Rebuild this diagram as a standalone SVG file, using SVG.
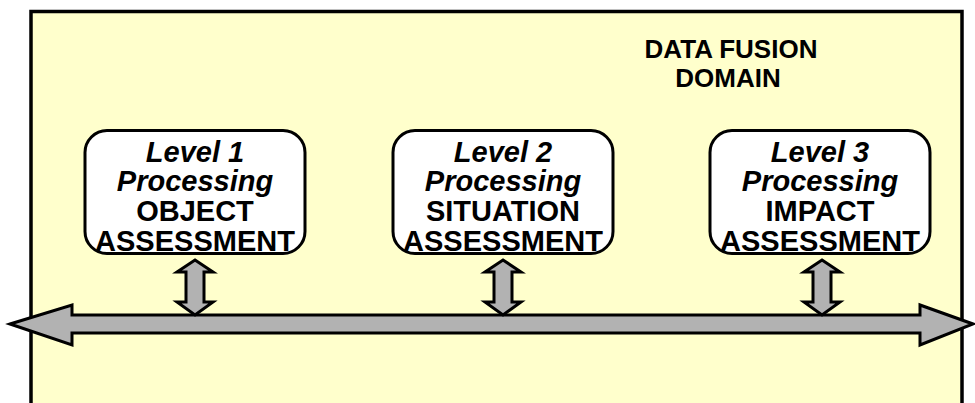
<svg xmlns="http://www.w3.org/2000/svg" width="975" height="403" viewBox="0 0 975 403">
<defs>
<style>
.frame{fill:#FFFFCC;stroke:#000;stroke-width:3.5}
.box{fill:#FFFFFF;stroke:#000;stroke-width:3}
.arr{fill:#B2B2B2;stroke:#000;stroke-width:3;stroke-linejoin:miter}
.t{font-family:"Liberation Sans",Arial,sans-serif;font-weight:bold;font-size:29px;text-anchor:middle;fill:#000}
.i{font-style:italic}
.title{font-family:"Liberation Sans",Arial,sans-serif;font-weight:bold;font-size:26px;text-anchor:middle;fill:#000}
</style>
</defs>
<rect class="frame" x="31" y="11.5" width="931" height="420"/>
<g id="title">
<text class="title" x="731" y="58">DATA FUSION</text>
<text class="title" x="728" y="87">DOMAIN</text>
</g>
<g id="connectors">
<polygon class="arr" points="10,324 72,305 72,315 920,315 920,305 973,324 920,345 920,333 72,333 72,345"/>
<polygon class="arr" points="195,260 213,272 204,272 204,302 213,302 195,315 177,302 186,302 186,272 177,272"/>
<polygon class="arr" points="503,260 521,272 512,272 512,302 521,302 503,315 485,302 494,302 494,272 485,272"/>
<polygon class="arr" points="822,260 840,272 831,272 831,302 840,302 822,315 804,302 813,302 813,272 804,272"/>
</g>
<g id="level1">
<rect class="box" x="85" y="130.5" width="220" height="123" rx="22" ry="22"/>
<text class="t i" x="195" y="162">Level 1</text>
<text class="t i" x="195" y="191">Processing</text>
<text class="t" x="195" y="221">OBJECT</text>
<text class="t" x="195" y="251">ASSESSMENT</text>
</g>
<g id="level2">
<rect class="box" x="393" y="130.5" width="220" height="123" rx="22" ry="22"/>
<text class="t i" x="503" y="162">Level 2</text>
<text class="t i" x="503" y="191">Processing</text>
<text class="t" x="503" y="221">SITUATION</text>
<text class="t" x="503" y="251">ASSESSMENT</text>
</g>
<g id="level3">
<rect class="box" x="710" y="130.5" width="220" height="123" rx="22" ry="22"/>
<text class="t i" x="820" y="162">Level 3</text>
<text class="t i" x="820" y="191">Processing</text>
<text class="t" x="820" y="221">IMPACT</text>
<text class="t" x="820" y="251">ASSESSMENT</text>
</g>
</svg>
